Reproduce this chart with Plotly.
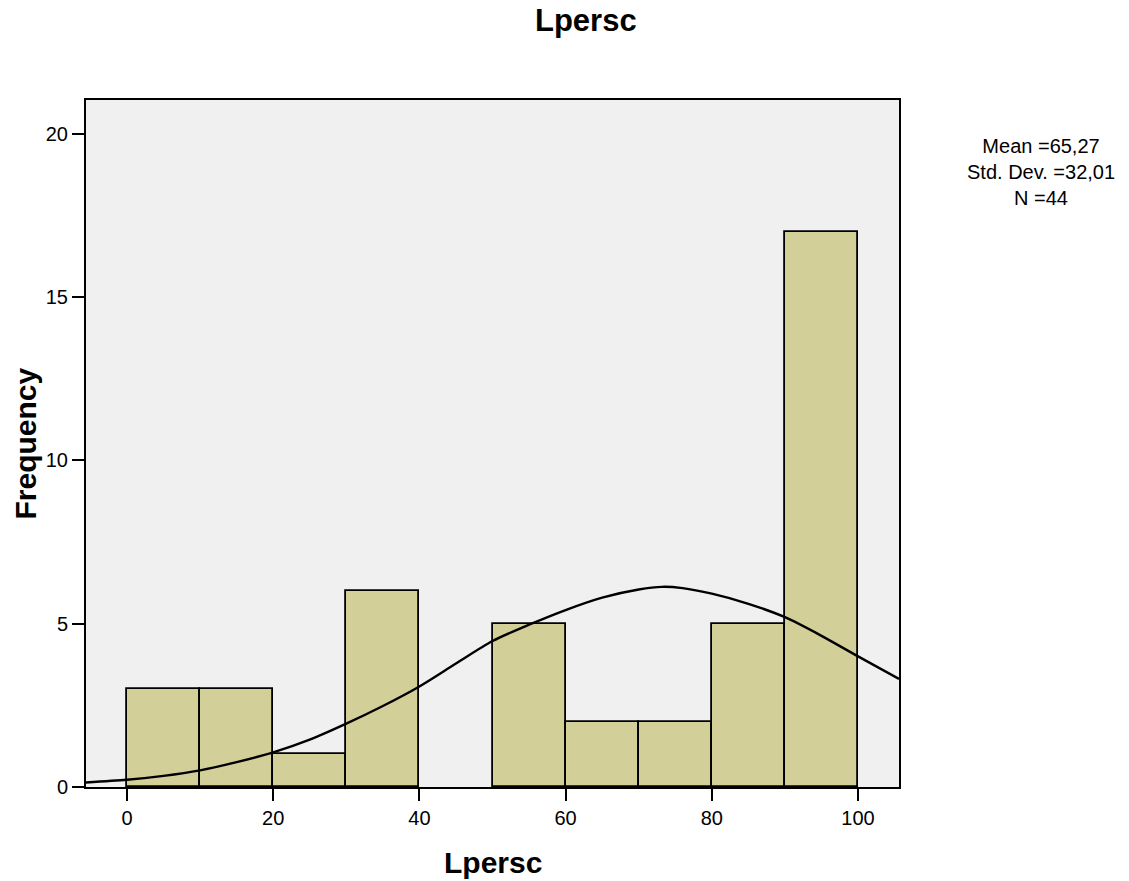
import plotly.graph_objects as go

# Histogram bins (lower edges), bin width 10
bin_starts = [0, 10, 20, 30, 40, 50, 60, 70, 80, 90]
bin_width = 10
frequencies = [3, 3, 1, 6, 0, 5, 2, 2, 5, 17]

# Normal curve points
curve_x = [-5.6, 0, 5, 10, 15, 20, 25, 30, 35, 40, 45, 50, 55, 60, 65, 70, 73.2, 76, 80, 85, 90, 95, 100, 105.6]
curve_y = [0.14, 0.22, 0.34, 0.51, 0.76, 1.06, 1.45, 1.94, 2.48, 3.08, 3.78, 4.47, 4.97, 5.42, 5.80, 6.05, 6.13, 6.09, 5.92, 5.61, 5.20, 4.63, 4.0, 3.31]

x_ticks = [0, 20, 40, 60, 80, 100]
y_ticks = [0, 5, 10, 15, 20]

title_text = "Lpersc"
x_title = "Lpersc"
y_title = "Frequency"
stats_lines = ["Mean =65,27", "Std. Dev. =32,01", "N =44"]

FONT = "Liberation Sans, Arial, sans-serif"

L, R, T, B = 86, 899, 100, 787
PW, PH = R - L, B - T

fig = go.Figure()
fig.add_trace(go.Bar(
    x=[s + bin_width / 2 for s in bin_starts],
    y=frequencies,
    width=[bin_width] * len(bin_starts),
    marker=dict(color="#D3CF98",
                line=dict(color="black", width=[1.8 if f > 0 else 0 for f in frequencies])),
    showlegend=False,
    hoverinfo="x+y",
))
fig.add_trace(go.Scatter(
    x=curve_x, y=curve_y, mode="lines",
    line=dict(color="black", width=2.4, shape="spline", smoothing=0.8),
    showlegend=False,
))

annotations = [
    dict(text="<b>%s</b>" % title_text, xref="paper", yref="paper",
         x=(586 - L) / PW, y=1 + (T - 21) / PH,
         xanchor="center", yanchor="middle", showarrow=False,
         font=dict(size=31, family=FONT)),
    dict(text="<b>%s</b>" % x_title, xref="paper", yref="paper",
         x=0.5, y=-(862 - B) / PH, xanchor="center", yanchor="middle",
         showarrow=False, font=dict(size=30, family=FONT)),
    dict(text="<b>%s</b>" % y_title, xref="paper", yref="paper",
         x=-(L - 25) / PW, y=0.5, xanchor="center", yanchor="middle",
         textangle=-90, showarrow=False, font=dict(size=30, family=FONT)),
    dict(text="<br>".join(stats_lines), xref="paper", yref="paper",
         x=1 + (1041 - R) / PW, y=1 - (172 - T) / PH,
         xanchor="center", yanchor="middle", align="center",
         showarrow=False, font=dict(size=20, family=FONT)),
]

fig.update_layout(
    width=1129, height=881,
    margin=dict(l=L, r=1129 - R, t=T, b=881 - B),
    paper_bgcolor="white",
    plot_bgcolor="#F0F0F0",
    font=dict(family=FONT, color="black", size=20),
    bargap=0,
    xaxis=dict(
        range=[-5.6, 105.6], tickvals=x_ticks, ticks="outside", ticklen=12,
        tickwidth=2, tickcolor="black", showline=True, linecolor="black",
        linewidth=2, mirror=True, showgrid=False, zeroline=False,
        tickfont=dict(size=20, family=FONT),
    ),
    yaxis=dict(
        range=[0, 21.04], tickvals=y_ticks, ticks="outside", ticklen=12,
        tickwidth=2, tickcolor="black", showline=True, linecolor="black",
        linewidth=2, mirror=True, showgrid=False, zeroline=False,
        tickfont=dict(size=20, family=FONT),
    ),
    annotations=annotations,
)

fig.write_html("out.html")
